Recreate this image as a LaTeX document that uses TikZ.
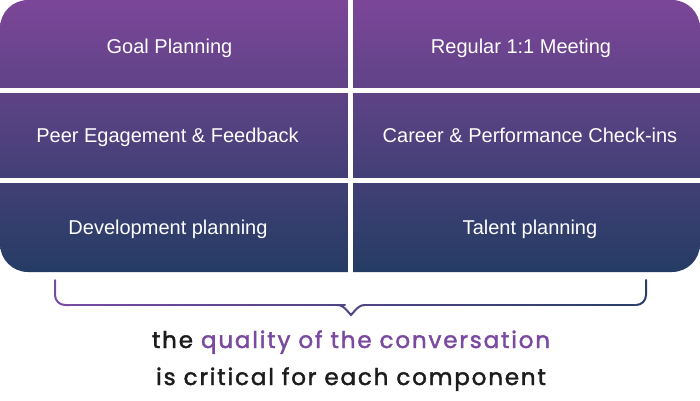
\documentclass[tikz,border=0pt]{standalone}
\usepackage{fontspec}
\setmainfont{Liberation Sans}
\newfontfamily\popfont{Poppins}[LetterSpace=8,FakeBold=1.8]
\definecolor{topc}{RGB}{124,70,152}
\definecolor{botc}{RGB}{36,60,100}
\definecolor{bracel}{RGB}{118,76,162}
\definecolor{bracer}{RGB}{40,62,104}
\definecolor{qual}{RGB}{122,74,160}
\definecolor{dark}{RGB}{28,28,28}
\begin{document}
\begin{tikzpicture}[x=1pt,y=-1pt,
  celltext/.style={text=white,font=\fontsize{20}{24}\selectfont,inner sep=0pt,anchor=base},
  gap/.style={fill=white},
  bottomtext/.style={font=\popfont\fontsize{23}{27}\selectfont,text=dark,inner sep=0pt,anchor=base}]
\useasboundingbox (0,0) rectangle (700,400);
\shade[top color=topc,bottom color=botc,rounded corners=28pt] (0,0) rectangle (700,272);
\fill[gap] (348,-1) rectangle (353,273);
\fill[gap] (-1,87.5) rectangle (701,92.5);
\fill[gap] (-1,178) rectangle (701,183);
\node[celltext] (c11) at (169.5,53) {Goal Planning};
\node[celltext] (c12) at (521,53) {Regular 1:1 Meeting};
\node[celltext] (c21) at (167.5,142) {Peer Egagement \& Feedback};
\node[celltext] (c22) at (530,142) {Career \& Performance Check-ins};
\node[celltext] (c31) at (168,234) {Development planning};
\node[celltext] (c32) at (530,234) {Talent planning};
% brace
\begin{scope}[line width=2pt,line cap=round]
\draw[bracel] (55,280) -- (55,295) arc[start angle=180,end angle=90,radius=10] -- (70,305);
\foreach \i in {0,...,13}{
  \pgfmathsetmacro{\xa}{65+\i*20}
  \pgfmathsetmacro{\xb}{\xa+20}
  \pgfmathsetmacro{\m}{100-\i*50/14}
  \draw[bracel!\m!bracer] (\xa,305) -- (\xb,305);
}
\draw[bracel!50!bracer] (337,305) .. controls (342,305) and (344,307) .. (351,315)
  .. controls (358,307) and (360,305) .. (365,305);
\foreach \i in {0,...,13}{
  \pgfmathsetmacro{\xa}{365+\i*19.3}
  \pgfmathsetmacro{\xb}{\xa+19.3}
  \pgfmathsetmacro{\m}{50-\i*50/14}
  \draw[bracel!\m!bracer] (\xa,305) -- (\xb,305);
}
\draw[bracer] (636,305) arc[start angle=90,end angle=0,radius=10] -- (646,280);
\end{scope}
\node[bottomtext] (l1) at (351,348) {the \textcolor{qual}{quality of the conversation}};
\node[bottomtext] (l2) at (351,385) {is critical for each component};
\end{tikzpicture}
\end{document}
